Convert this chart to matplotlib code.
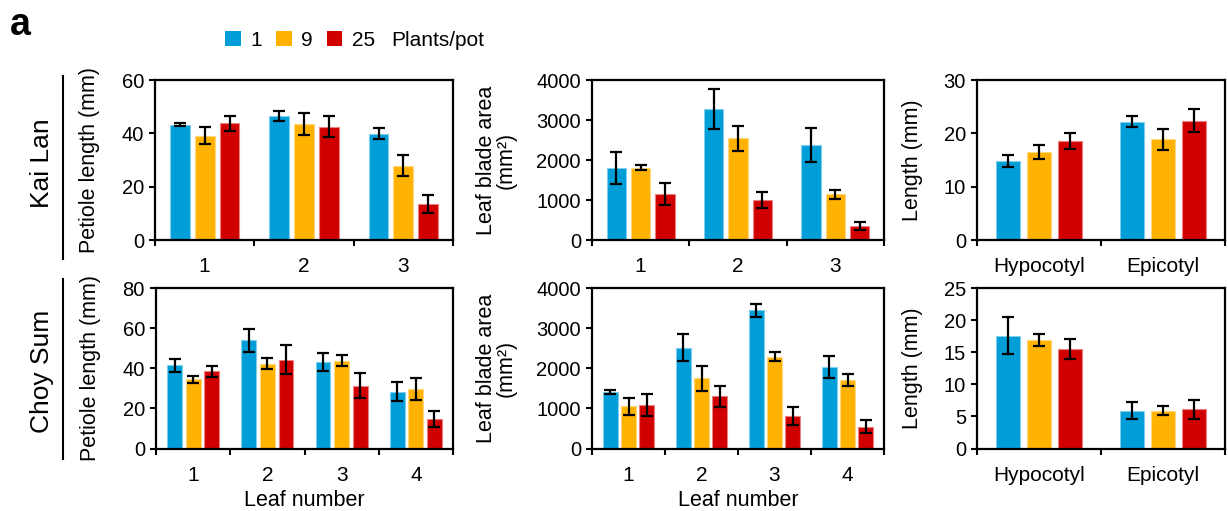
import numpy as np
import matplotlib
matplotlib.use("Agg")
import matplotlib.pyplot as plt
from matplotlib.lines import Line2D
from matplotlib.patches import Patch

plt.rcParams['font.family'] = ['Liberation Sans', 'DejaVu Sans']
plt.rcParams['font.size'] = 15

# ---------------- data ----------------
series_labels = ["1", "9", "25"]
colors = ["#009ED8", "#FFB200", "#D00000"]
edgecolors = ["#7FCFEF", "#FFD87F", "#EE8080"]

kl_leaves = ["1", "2", "3"]
kl_pet_1 = [43.3, 46.5, 39.9]
kl_pet_9 = [39.1, 43.5, 27.9]
kl_pet_25 = [43.7, 42.5, 13.5]
kl_pet_1_err = [0.7, 2.0, 2.2]
kl_pet_9_err = [3.1, 4.2, 3.8]
kl_pet_25_err = [2.8, 4.0, 3.3]

kl_area_1 = [1810, 3280, 2370]
kl_area_9 = [1810, 2540, 1140]
kl_area_25 = [1145, 1000, 355]
kl_area_1_err = [400, 495, 420]
kl_area_9_err = [60, 305, 120]
kl_area_25_err = [270, 205, 100]

stem_parts = ["Hypocotyl", "Epicotyl"]
kl_len_1 = [14.8, 22.2]
kl_len_9 = [16.5, 18.9]
kl_len_25 = [18.6, 22.4]
kl_len_1_err = [1.2, 1.1]
kl_len_9_err = [1.3, 2.0]
kl_len_25_err = [1.5, 2.2]

cs_leaves = ["1", "2", "3", "4"]
cs_pet_1 = [41.5, 54.0, 43.0, 28.4]
cs_pet_9 = [34.4, 42.2, 43.8, 29.7]
cs_pet_25 = [38.5, 44.3, 31.4, 14.9]
cs_pet_1_err = [3.2, 5.8, 4.6, 4.6]
cs_pet_9_err = [1.6, 2.8, 2.8, 5.3]
cs_pet_25_err = [2.8, 7.2, 6.0, 4.0]

cs_area_1 = [1410, 2515, 3440, 2025]
cs_area_9 = [1050, 1750, 2290, 1715]
cs_area_25 = [1085, 1300, 815, 540]
cs_area_1_err = [50, 330, 165, 270]
cs_area_9_err = [215, 305, 115, 145]
cs_area_25_err = [265, 260, 225, 160]

cs_len_1 = [17.6, 5.9]
cs_len_9 = [16.9, 5.9]
cs_len_25 = [15.5, 6.1]
cs_len_1_err = [2.9, 1.3]
cs_len_9_err = [1.0, 0.7]
cs_len_25_err = [1.5, 1.5]

# ---------------- figure ----------------
W, H = 1228, 511
fig = plt.figure(figsize=(W / 100, H / 100), dpi=100)


def ax_at(left, top, right, bottom):
    return fig.add_axes([left / W, 1 - bottom / H, (right - left) / W, (bottom - top) / H])


def panel(ax, cats, vals, errs, ymax, ystep, ylabel, labelx, xlabel=None):
    n = len(cats)
    x = np.arange(1, n + 1)
    offs = [-0.25, 0.0, 0.25]
    for v, e, c, ec, o in zip(vals, errs, colors, edgecolors, offs):
        ax.bar(x + o, v, 0.2, color=c, edgecolor=ec, linewidth=0.8, zorder=2)
        ax.errorbar(x + o, v, yerr=e, fmt='none', ecolor='black', elinewidth=1.6,
                    capsize=4.3, capthick=1.6, zorder=3)
    ax.set_xlim(0.5, n + 0.5)
    ax.set_ylim(0, ymax)
    ax.set_xticks(np.arange(0.5, n + 1, 1.0))
    ax.set_xticklabels([])
    ax.set_xticks(x, minor=True)
    ax.set_xticklabels(cats, minor=True)
    ax.tick_params(axis='x', which='major', length=4, width=1.5, direction='out')
    ax.tick_params(axis='x', which='minor', length=0, pad=12.5, labelsize=15)
    yt = np.arange(0, ymax + 0.001, ystep)
    ax.set_yticks(yt)
    ax.set_yticklabels([f"{int(t)}" for t in yt])
    ax.tick_params(axis='y', length=4, width=1.5, direction='out', pad=4, labelsize=14.5)
    for s in ax.spines.values():
        s.set_linewidth(1.6)
    ax.set_ylabel(ylabel, fontsize=15.5, linespacing=0.95)
    ax.yaxis.set_label_coords(labelx, 0.5)
    if xlabel:
        ax.set_xlabel(xlabel, fontsize=15.5, labelpad=3.5)


ax1 = ax_at(155, 80, 453, 240)
ax2 = ax_at(592, 80, 884, 240)
ax3 = ax_at(977, 80, 1225, 240)
ax4 = ax_at(156, 288, 453, 448.5)
ax5 = ax_at(592, 288, 884, 448.5)
ax6 = ax_at(977, 288, 1225, 448.5)

panel(ax1, kl_leaves, [kl_pet_1, kl_pet_9, kl_pet_25],
      [kl_pet_1_err, kl_pet_9_err, kl_pet_25_err], 60, 20,
      "Petiole length (mm)", -0.185)
panel(ax2, kl_leaves, [kl_area_1, kl_area_9, kl_area_25],
      [kl_area_1_err, kl_area_9_err, kl_area_25_err], 4000, 1000,
      "Leaf blade area\n(mm\u00b2)", -0.257)
panel(ax3, stem_parts, [kl_len_1, kl_len_9, kl_len_25],
      [kl_len_1_err, kl_len_9_err, kl_len_25_err], 30, 10,
      "Length (mm)", -0.218)
panel(ax4, cs_leaves, [cs_pet_1, cs_pet_9, cs_pet_25],
      [cs_pet_1_err, cs_pet_9_err, cs_pet_25_err], 80, 20,
      "Petiole length (mm)", -0.185, xlabel="Leaf number")
panel(ax5, cs_leaves, [cs_area_1, cs_area_9, cs_area_25],
      [cs_area_1_err, cs_area_9_err, cs_area_25_err], 4000, 1000,
      "Leaf blade area\n(mm\u00b2)", -0.257, xlabel="Leaf number")
panel(ax6, stem_parts, [cs_len_1, cs_len_9, cs_len_25],
      [cs_len_1_err, cs_len_9_err, cs_len_25_err], 25, 5,
      "Length (mm)", -0.218)

# crop names and separators
fig.text(42 / W, 1 - 163 / H, "Kai Lan", rotation=90, ha='center', va='center', fontsize=19)
fig.text(42 / W, 1 - 371 / H, "Choy Sum", rotation=90, ha='center', va='center', fontsize=19)
fig.add_artist(Line2D([62.5 / W] * 2, [1 - 76 / H, 1 - 259 / H], color='black', lw=1.5))
fig.add_artist(Line2D([62.5 / W] * 2, [1 - 279 / H, 1 - 459 / H], color='black', lw=1.5))

# panel letter
fig.text(10 / W, 1 - 25 / H, "a", fontsize=27, fontweight='bold', ha='left', va='center')

# legend
handles = [Patch(facecolor=c, edgecolor='none') for c in colors]
fig.legend(handles, series_labels, loc='center left', bbox_to_anchor=(225 / W, 1 - 40 / H),
           ncol=3, frameon=False, fontsize=15, handlelength=0.76, handleheight=0.76,
           handletextpad=0.45, columnspacing=0.67, borderpad=0, borderaxespad=0)
fig.text(391 / W, 1 - 40 / H, "Plants/pot", fontsize=15, ha='left', va='center')

fig.savefig("out.png", dpi=100)
